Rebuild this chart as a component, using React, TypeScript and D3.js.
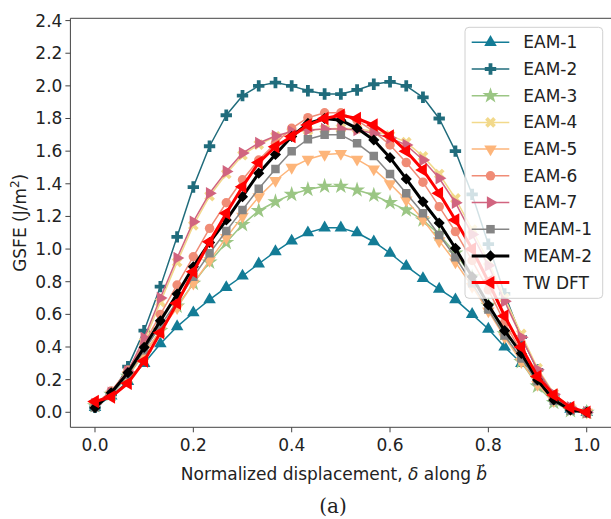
import React from 'react';
import * as d3 from 'd3';

// normalized displacement along b (31 points)
const displacement = [
  0, 0.033, 0.067, 0.1, 0.133, 0.167, 0.2, 0.233, 0.267, 0.3, 0.333,
  0.367, 0.4, 0.433, 0.467, 0.5, 0.533, 0.567, 0.6, 0.633, 0.667,
  0.7, 0.733, 0.767, 0.8, 0.833, 0.867, 0.9, 0.933, 0.967, 1.0,
];

// GSFE values (J/m^2)
const eam1 = [0.03, 0.1, 0.19, 0.3, 0.42, 0.525, 0.61, 0.69, 0.765, 0.835, 0.91, 0.985, 1.05, 1.1, 1.13, 1.13, 1.1, 1.045, 0.975, 0.895, 0.82, 0.755, 0.69, 0.6, 0.51, 0.4, 0.3, 0.19, 0.085, 0.02, 0.0];
const eam2 = [0.03, 0.11, 0.28, 0.5, 0.77, 1.075, 1.38, 1.63, 1.82, 1.94, 2.0, 2.02, 2.0, 1.97, 1.95, 1.95, 1.975, 2.01, 2.025, 2.0, 1.93, 1.8, 1.6, 1.335, 1.03, 0.725, 0.46, 0.26, 0.1, 0.02, 0.0];
const eam3 = [0.04, 0.11, 0.22, 0.36, 0.5, 0.65, 0.79, 0.92, 1.04, 1.15, 1.235, 1.29, 1.335, 1.365, 1.385, 1.385, 1.362, 1.33, 1.285, 1.24, 1.178, 1.09, 0.975, 0.83, 0.655, 0.48, 0.31, 0.16, 0.06, 0.01, 0.0];
const eam4 = [0.05, 0.11, 0.23, 0.43, 0.675, 0.92, 1.145, 1.325, 1.46, 1.575, 1.64, 1.69, 1.715, 1.728, 1.735, 1.74, 1.738, 1.722, 1.697, 1.655, 1.568, 1.46, 1.31, 1.12, 0.925, 0.7, 0.48, 0.27, 0.115, 0.03, 0.0];
const eam5 = [0.04, 0.11, 0.23, 0.36, 0.5, 0.64, 0.79, 0.93, 1.07, 1.2, 1.32, 1.42, 1.5, 1.55, 1.58, 1.585, 1.55, 1.49, 1.4, 1.3, 1.18, 1.05, 0.92, 0.77, 0.62, 0.46, 0.31, 0.17, 0.07, 0.02, 0.0];
const eam6 = [0.05, 0.13, 0.26, 0.42, 0.6, 0.78, 0.953, 1.127, 1.284, 1.425, 1.546, 1.648, 1.74, 1.805, 1.835, 1.835, 1.79, 1.72, 1.638, 1.53, 1.41, 1.26, 1.107, 0.93, 0.75, 0.55, 0.37, 0.2, 0.08, 0.02, 0.0];
const eam7 = [0.05, 0.12, 0.25, 0.455, 0.7, 0.945, 1.168, 1.342, 1.476, 1.588, 1.65, 1.693, 1.72, 1.73, 1.735, 1.735, 1.73, 1.71, 1.68, 1.638, 1.546, 1.434, 1.284, 1.09, 0.9, 0.68, 0.46, 0.26, 0.11, 0.03, 0.0];
const meam1 = [0.03, 0.11, 0.23, 0.38, 0.53, 0.68, 0.83, 0.974, 1.111, 1.24, 1.37, 1.49, 1.6, 1.673, 1.7, 1.7, 1.648, 1.57, 1.46, 1.342, 1.22, 1.086, 0.95, 0.79, 0.63, 0.47, 0.33, 0.19, 0.07, 0.01, 0.0];
const meam2 = [0.028, 0.12, 0.243, 0.398, 0.561, 0.725, 0.892, 1.04, 1.178, 1.321, 1.465, 1.58, 1.69, 1.77, 1.8, 1.79, 1.74, 1.668, 1.56, 1.43, 1.29, 1.16, 1.005, 0.83, 0.657, 0.5, 0.36, 0.198, 0.075, 0.014, 0.0];
const twDft = [0.066, 0.094, 0.178, 0.314, 0.488, 0.668, 0.861, 1.045, 1.219, 1.382, 1.53, 1.627, 1.69, 1.76, 1.8, 1.82, 1.8, 1.76, 1.693, 1.6, 1.485, 1.342, 1.178, 1.0, 0.8, 0.59, 0.4, 0.22, 0.106, 0.03, 0.0];

const xTicks = [0, 0.2, 0.4, 0.6, 0.8, 1.0];
const yTicks = [0, 0.2, 0.4, 0.6, 0.8, 1.0, 1.2, 1.4, 1.6, 1.8, 2.0, 2.2, 2.4];

type Marker = '^' | 'v' | '<' | '>' | 'P' | '*' | 'X' | 'o' | 's' | 'D';

const series: { label: string; values: number[]; color: string; marker: Marker; lw: number; ms: number }[] = [
  { label: 'EAM-1', values: eam1, color: '#137c96', marker: '^', lw: 1.5, ms: 68 },
  { label: 'EAM-2', values: eam2, color: '#206c7c', marker: 'P', lw: 1.5, ms: 72 },
  { label: 'EAM-3', values: eam3, color: '#9bc684', marker: '*', lw: 1.5, ms: 80 },
  { label: 'EAM-4', values: eam4, color: '#f2d98b', marker: 'X', lw: 1.5, ms: 72 },
  { label: 'EAM-5', values: eam5, color: '#fdb57a', marker: 'v', lw: 1.5, ms: 68 },
  { label: 'EAM-6', values: eam6, color: '#f08c76', marker: 'o', lw: 1.5, ms: 70 },
  { label: 'EAM-7', values: eam7, color: '#d1647f', marker: '>', lw: 1.5, ms: 68 },
  { label: 'MEAM-1', values: meam1, color: '#858585', marker: 's', lw: 1.5, ms: 72 },
  { label: 'MEAM-2', values: meam2, color: '#000000', marker: 'D', lw: 3, ms: 62 },
  { label: 'TW DFT', values: twDft, color: '#ff0000', marker: '<', lw: 3, ms: 78 },
];

const W = 611;
const H = 519;
const left = 70.4;
const right = 611.3;
const top = 18.3;
const bottom = 427.3;
const FONT = '"DejaVu Sans", sans-serif';
const FS = 17;

function markerShape(m: Marker, size: number) {
  const types: Record<Marker, [d3.SymbolType, number]> = {
    '^': [d3.symbolTriangle, 0],
    'v': [d3.symbolTriangle, 180],
    '>': [d3.symbolTriangle, 90],
    '<': [d3.symbolTriangle, -90],
    'P': [d3.symbolCross, 0],
    'X': [d3.symbolCross, 45],
    '*': [d3.symbolStar, 0],
    'o': [d3.symbolCircle, 0],
    's': [d3.symbolSquare, 0],
    'D': [d3.symbolSquare, 45],
  };
  const [type, rot] = types[m];
  return { d: d3.symbol().type(type).size(size)() || '', rot };
}

export default function App() {
  const x = d3.scaleLinear().domain([-0.05, 1.05]).range([left, right]);
  const y = d3.scaleLinear().domain([-0.092, 2.414]).range([bottom, top]);

  const line = d3.line<number>()
    .x((_, i) => x(displacement[i]))
    .y(d => y(d));

  // legend layout
  const lgX = 465, lgY = 27.3, lgW = 137.7, lgH = 271;
  const rowH = 26.7;

  return (
    <svg width={W} height={H} style={{ position: 'absolute', left: 0, top: 0, background: '#fff' }}
      fontFamily={FONT}>
      <defs>
        <clipPath id="plotArea">
          <rect x={left} y={top} width={right - left} height={bottom - top} />
        </clipPath>
      </defs>

      <g clipPath="url(#plotArea)">
        {series.map(s => {
          const mk = markerShape(s.marker, s.ms);
          return (
            <g key={s.label}>
              <path d={line(s.values) || ''} fill="none" stroke={s.color} strokeWidth={s.lw} strokeLinejoin="round" />
              {s.values.map((v, i) => (
                <path key={i} d={mk.d} fill={s.color}
                  transform={`translate(${x(displacement[i])},${y(v)}) rotate(${mk.rot})`} />
              ))}
            </g>
          );
        })}
      </g>

      {/* spines */}
      <line x1={left} x2={left} y1={top} y2={bottom} stroke="#444" strokeWidth={1} />
      <line x1={left} x2={right} y1={bottom} y2={bottom} stroke="#444" strokeWidth={1} />
      <line x1={left} x2={right} y1={top} y2={top} stroke="#444" strokeWidth={1} />

      {/* x axis */}
      {xTicks.map(t => (
        <g key={t} transform={`translate(${x(t)},${bottom})`}>
          <line y2={5} stroke="#444" />
          <text y={24} textAnchor="middle" fontSize={FS} fill="#222">{t.toFixed(1)}</text>
        </g>
      ))}
      <text x={334} y={480} textAnchor="middle" fontSize={FS} fill="#222">
        Normalized displacement, <tspan fontStyle="italic">δ</tspan> along <tspan fontStyle="italic">b⃗</tspan>
      </text>

      {/* y axis */}
      {yTicks.map(t => (
        <g key={t} transform={`translate(${left},${y(t)})`}>
          <line x2={-5} stroke="#444" />
          <text x={-8} dy="0.35em" textAnchor="end" fontSize={FS} fill="#222">{t.toFixed(1)}</text>
        </g>
      ))}
      <text transform={`translate(26,${(top + bottom) / 2}) rotate(-90)`} textAnchor="middle" fontSize={FS} fill="#222">
        GSFE (J/m<tspan dy={-7} fontSize={12}>2</tspan><tspan dy={7}>)</tspan>
      </text>

      {/* legend */}
      <rect x={lgX} y={lgY} width={lgW} height={lgH} rx={4} fill="#fff" fillOpacity={0.8} stroke="#d0d0d0" />
      {series.map((s, k) => {
        const cy = 42.3 + k * rowH;
        const mk = markerShape(s.marker, s.ms);
        return (
          <g key={s.label}>
            <line x1={471.7} x2={509.3} y1={cy} y2={cy} stroke={s.color} strokeWidth={s.lw} />
            <path d={mk.d} fill={s.color} transform={`translate(490.5,${cy}) rotate(${mk.rot})`} />
            <text x={523.3} y={cy} dy="0.35em" fontSize={FS} fill="#222">{s.label}</text>
          </g>
        );
      })}

      <text x={333} y={513} textAnchor="middle" fontSize={20}
        fontFamily='"DejaVu Serif", serif' fill="#222">(a)</text>
    </svg>
  );
}
